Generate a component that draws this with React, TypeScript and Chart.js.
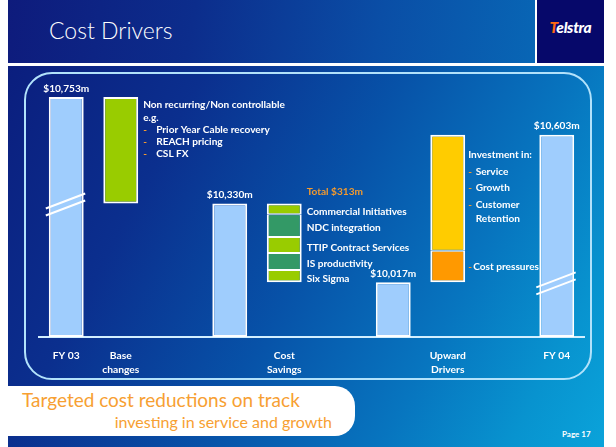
import React, { useEffect, useRef } from "react";
import { Chart, registerables } from "chart.js";

Chart.register(...registerables);

// ---------- data ----------
const categoryLabels: (string | string[])[] = [
  "FY 03",
  ["Base", "changes"],
  "",
  "",
  ["Cost", "Savings"],
  "",
  "",
  ["Upward", "Drivers"],
  "",
  "FY 04",
];
const totalSlots = [0, 3, 6, 9];
const totalValues = [10753, 10330, 10017, 10603];

const baseChangeSlot = 1;
const baseChangeNotes = ["Non recurring/Non controllable", "e.g."];
const baseChangeItems = ["Prior Year Cable recovery", "REACH pricing", "CSL FX"];

const savingsSlot = 4;
const savingsTotalLabel = "Total $313m";
const savingsNames = ["Commercial Initiatives", "NDC integration", "TTIP Contract Services", "IS productivity", "Six Sigma"];
const savingsValues = [43, 90, 63, 68, 49];

const upwardSlot = 7;
const upwardNames = ["Cost pressures", "Investment"];
const upwardValues = [126, 460];
const investmentTitle = "Investment in:";
const investmentItems = [["Service"], ["Growth"], ["Customer", "Retention"]];

const yMin = 9800;
const yMax = 10900;

// ---------- style ----------
const FONT = "Lato";
const BAR_BLUE = "#9fcdfd";
const LIME = "#99cc00";
const DARK_GREEN = "#339966";
const YELLOW = "#ffcc00";
const ORANGE = "#ff9900";
const TEXT_ORANGE = "#f39a2e";
const savingsColors = [LIME, DARK_GREEN, LIME, DARK_GREEN, LIME];
const upwardColors = [ORANGE, YELLOW];

const fmt = (v: number) => "$" + v.toLocaleString("en-US") + "m";

function buildDatasets() {
  const empty = () => categoryLabels.map(() => null as any);
  const common = {
    grouped: false,
    barPercentage: 0.64,
    categoryPercentage: 1,
    borderColor: "#ffffff",
    borderSkipped: false as const,
  };
  const ds: any[] = [];
  const totals = empty();
  totalSlots.forEach((s, i) => (totals[s] = [yMin, totalValues[i]]));
  ds.push({ ...common, label: "Totals", data: totals, backgroundColor: BAR_BLUE, borderWidth: 2 });

  const base = empty();
  base[baseChangeSlot] = [totalValues[1], totalValues[0]];
  ds.push({ ...common, label: "Base changes", data: base, backgroundColor: LIME, borderWidth: 2 });

  let top = totalValues[1];
  savingsNames.forEach((name, i) => {
    const d = empty();
    d[savingsSlot] = [top - savingsValues[i], top];
    top -= savingsValues[i];
    ds.push({
      ...common,
      label: name,
      data: d,
      backgroundColor: savingsColors[i],
      borderWidth: { left: 2, right: 2, top: i === 0 ? 2 : 1, bottom: i === savingsNames.length - 1 ? 2 : 1 },
    });
  });

  let start = totalValues[2];
  upwardNames.forEach((name, i) => {
    const d = empty();
    d[upwardSlot] = [start, start + upwardValues[i]];
    start += upwardValues[i];
    ds.push({
      ...common,
      label: name,
      data: d,
      backgroundColor: upwardColors[i],
      borderWidth: { left: 2, right: 2, top: i === 1 ? 2 : 1, bottom: i === 0 ? 2 : 1 },
    });
  });
  return ds;
}

const annotatePlugin = {
  id: "annotate",
  afterDatasetsDraw(chart: any) {
    const ctx: CanvasRenderingContext2D = chart.ctx;
    const yScale = chart.scales.y;
    const el = (ds: number, slot: number) => chart.getDatasetMeta(ds).data[slot] as any;
    const topOf = (b: any) => Math.min(b.y, b.base);
    const rightOf = (b: any) => b.x + b.width / 2;
    const text = (t: string, x: number, y: number, color = "#ffffff") => {
      ctx.fillStyle = color;
      ctx.fillText(t, x, y);
    };
    ctx.save();
    ctx.font = `bold 10.1px ${FONT}`;
    ctx.textBaseline = "alphabetic";

    // value labels over the totals
    ctx.textAlign = "center";
    totalSlots.forEach((s, i) => {
      const b = el(0, s);
      text(fmt(totalValues[i]), b.x, topOf(b) - 5.5);
    });

    // axis-break marks on first and last bars
    const breaks = [
      { slot: totalSlots[0], level: totalValues[1] },
      { slot: totalSlots[3], level: totalValues[2] },
    ];
    ctx.strokeStyle = "#ffffff";
    ctx.lineWidth = 2;
    breaks.forEach(({ slot, level }) => {
      const b = el(0, slot);
      const c = yScale.getPixelForValue(level);
      const xl = b.x - b.width / 2 - 3;
      const xr = b.x + b.width / 2 + 1.5;
      for (let k = 0; k < 2; k++) {
        ctx.beginPath();
        ctx.moveTo(xl, c + 5 + 7 * k);
        ctx.lineTo(xr, c - 10 + 7 * k);
        ctx.stroke();
      }
    });

    ctx.textAlign = "left";
    // base changes notes
    {
      const b = el(1, baseChangeSlot);
      const left = rightOf(b) + 5;
      let y = topOf(b) + 11.3;
      baseChangeNotes.forEach((t) => {
        text(t, left, y);
        y += 12.3;
      });
      baseChangeItems.forEach((t) => {
        text("-", left, y, TEXT_ORANGE);
        text(t, left + 13, y);
        y += 12.1;
      });
    }

    // cost savings labels
    {
      const first = el(2, savingsSlot);
      const left = rightOf(first) + 5;
      text(savingsTotalLabel, left, topOf(first) - 8.5, TEXT_ORANGE);
      savingsNames.forEach((name, i) => {
        const b = el(2 + i, savingsSlot);
        text(name, left, (b.y + b.base) / 2 + 5.8);
      });
    }

    // upward drivers labels
    {
      const inv = el(8, upwardSlot);
      const cp = el(7, upwardSlot);
      const left = rightOf(inv) + 3;
      let y = topOf(inv) + 23.7;
      text(investmentTitle, left, y);
      y += 16.4;
      investmentItems.forEach((lines) => {
        text("-", left, y, TEXT_ORANGE);
        lines.forEach((l, j) => {
          text(l, left + 7.5, y);
          y += j < lines.length - 1 ? 14.3 : 16.4;
        });
      });
      const cy = (cp.y + cp.base) / 2 + 4;
      text("-", left, cy, TEXT_ORANGE);
      text(upwardNames[0], left + 5, cy);
    }
    ctx.restore();
  },
};

export default function App() {
  const canvasRef = useRef<HTMLCanvasElement | null>(null);

  useEffect(() => {
    if (!canvasRef.current) return;
    const chart = new Chart(canvasRef.current, {
      type: "bar",
      data: { labels: categoryLabels as any, datasets: buildDatasets() },
      options: {
        animation: false,
        responsive: false,
        maintainAspectRatio: false,
        layout: { padding: { left: 39, right: 32, top: 60, bottom: 50 } },
        plugins: { legend: { display: false }, tooltip: { enabled: false } },
        scales: {
          x: {
            grid: { display: false, drawTicks: false },
            border: { display: true, color: "#d2efff", width: 2 },
            ticks: {
              color: "#ffffff",
              font: { family: FONT, size: 10.3, weight: "bold", lineHeight: 1.36 },
              padding: 12,
              autoSkip: false,
              maxRotation: 0,
            },
            afterFit: (s: any) => {
              s.height = 60;
            },
          },
          y: { display: false, min: yMin, max: yMax },
        },
      } as any,
      plugins: [annotatePlugin],
    });
    return () => chart.destroy();
  }, []);

  const abs = (s: React.CSSProperties): React.CSSProperties => ({ position: "absolute", ...s });

  return (
    <div style={abs({ left: 0, top: 0, width: 616, height: 447, background: "#ffffff", overflow: "hidden", fontFamily: FONT })}>
      {/* header */}
      <div
        style={abs({
          left: 8,
          top: 0,
          width: 527,
          height: 63,
          background: "linear-gradient(100deg, #0e1b7c 0%, #0c2d8c 35%, #0a4ea6 70%, #0866b5 100%)",
        })}
      />
      <div style={abs({ left: 537, top: 0, width: 67, height: 63, background: "#06086a" })} />
      <div style={abs({ left: 49, top: 15, color: "#ffffff", fontSize: 23, lineHeight: "30px", fontWeight: 300, whiteSpace: "nowrap" })}>
        Cost Drivers
      </div>
      <div
        style={abs({
          left: 537,
          top: 17,
          width: 67,
          textAlign: "center",
          color: "#ffffff",
          fontSize: 15.5,
          fontWeight: 900,
          fontStyle: "italic",
          lineHeight: "20px",
          letterSpacing: -0.3,
        })}
      >
        <span style={{ color: "#ff6a13" }}>T</span>elstra
      </div>

      {/* body */}
      <div
        style={abs({
          left: 8,
          top: 66,
          width: 596,
          height: 381,
          background:
            "linear-gradient(118deg, #0b1e7e 0%, #0b2f8e 25%, #0752a8 50%, #0775bf 72%, #0893cf 88%, #0aa3da 100%)",
        })}
      />
      <div
        style={abs({
          left: 24,
          top: 72,
          width: 568,
          height: 308,
          boxSizing: "border-box",
          border: "2px solid #b2e2fb",
          borderRadius: 28,
        })}
      />

      {/* bottom banner */}
      <div style={abs({ left: 8, top: 386, width: 347, height: 50, background: "#ffffff", borderRadius: "0 20px 20px 0" })} />
      <div style={abs({ left: 22, top: 388, color: "#f7a032", fontSize: 19, fontWeight: 400, lineHeight: "24px", whiteSpace: "nowrap" })}>
        Targeted cost reductions on track
      </div>
      <div
        style={abs({
          left: 100,
          width: 232,
          top: 412,
          color: "#f7a032",
          fontSize: 16,
          fontWeight: 400,
          lineHeight: "20px",
          textAlign: "right",
          whiteSpace: "nowrap",
        })}
      >
        investing in service and growth
      </div>
      <div style={abs({ left: 562, top: 429, color: "#ffffff", fontSize: 8, fontWeight: 700, lineHeight: "10px", whiteSpace: "nowrap" })}>
        Page 17
      </div>

      {/* chart */}
      <canvas ref={canvasRef} width={616} height={447} style={abs({ left: 0, top: 0, width: 616, height: 447 })} />
    </div>
  );
}
